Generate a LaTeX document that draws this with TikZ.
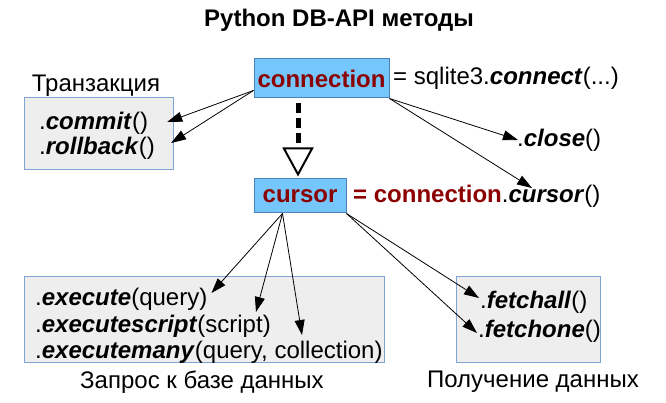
\documentclass[tikz,border=0pt]{standalone}
\usepackage{fontspec}
\setmainfont{Liberation Sans}
\usetikzlibrary{arrows.meta}
\definecolor{bluefill}{HTML}{75C6FB}
\definecolor{blueborder}{HTML}{4A82C0}
\definecolor{grayfill}{HTML}{EEEEEE}
\definecolor{grayborder}{HTML}{7FA4D4}
\definecolor{darkred}{HTML}{8B0000}
\newcommand{\bi}[1]{\textbf{\textit{#1}}}
\begin{document}
\begin{tikzpicture}[x=1pt,y=-1pt,
  txt/.style={inner sep=0pt, font=\fontsize{24}{28}\selectfont},
  bluebox/.style={draw=blueborder, fill=bluefill, line width=1pt, inner sep=0pt,
     font=\fontsize{24}{28}\selectfont\bfseries, text=darkred},
  graybox/.style={draw=grayborder, fill=grayfill, line width=1pt, inner sep=0pt},
  arr/.style={line width=0.8pt, -{Triangle[length=15pt,width=10pt]}},
  inherit/.style={line width=5pt, dash pattern=on 10pt off 5pt,
     -{Triangle[open, length=29pt, width=31pt, line width=2pt]}}]
\useasboundingbox (0,0) rectangle (666,403);
% title
\node[txt, font=\fontsize{24}{28}\selectfont\bfseries, anchor=base] (title) at (339,27) {Python DB-API методы};
% boxes
\node[graybox, minimum width=149pt, minimum height=72pt] (transBox) at (98.5,134) {};
\node[graybox, minimum width=360pt, minimum height=86pt] (execBox) at (204,319) {};
\node[graybox, minimum width=144pt, minimum height=86pt] (fetchBox) at (528,319) {};
\node[bluebox, minimum width=135pt, minimum height=39pt] (conn) at (321.5,78.5) {connection};
\node[bluebox, minimum width=92pt, minimum height=34pt] (cursor) at (300,196) {cursor};
% texts
\node[txt, anchor=base west] (connEq) at (393,85) {= sqlite3.\bi{connect}(...)};
\node[txt, anchor=base west] (close) at (517,147) {.\bi{close}()};
\node[txt, anchor=base west] (cursorEq) at (353,203) {\textcolor{darkred}{\textbf{= connection}}.\bi{cursor}()};
\node[txt, anchor=base] (transLabel) at (96,92) {Транзакция};
\node[txt, anchor=base west] (commit) at (39,130) {.\bi{commit}()};
\node[txt, anchor=base west] (rollback) at (39,155) {.\bi{rollback}()};
\node[txt, anchor=base west] (execute) at (35,305) {.\bi{execute}(query)};
\node[txt, anchor=base west] (executescript) at (35,332) {.\bi{executescript}(script)};
\node[txt, anchor=base west] (executemany) at (35,358) {.\bi{executemany}(query, collection)};
\node[txt, anchor=base west] (fetchall) at (480,308) {.\bi{fetchall}()};
\node[txt, anchor=base west] (fetchone) at (478,337) {.\bi{fetchone}()};
\node[txt, anchor=base] (queryLabel) at (202,388) {Запрос к базе данных};
\node[txt, anchor=base] (fetchLabel) at (533,387) {Получение данных};
% inheritance
\draw[inherit, shorten <=5pt, shorten >=2pt] ([xshift=-23.5pt]conn.south) -- ([xshift=-2pt]cursor.north);
% arrows from connection
\draw[arr] (conn.190) -- ([shift={(19pt,8pt)}]commit.base east);
\draw[arr] (conn.190) -- ([shift={(16pt,12pt)}]rollback.base east);
\draw[arr] (conn.south east) -- ([shift={(1pt,7pt)}]close.base west);
\draw[arr] (conn.south east) -- ([shift={(179pt,15pt)}]cursorEq.base west);
% arrows from cursor
\draw[arr] (cursor.225) -- ([shift={(4pt,12pt)}]execute.base east);
\draw[arr] (cursor.225) -- ([shift={(-15pt,20pt)}]executescript.base east);
\draw[arr] (cursor.225) -- ([shift={(267pt,23pt)}]executemany.base west);
\draw[arr] (cursor.south east) -- ([shift={(-1pt,10pt)}]fetchall.base west);
\draw[arr] (cursor.south east) -- ([shift={(-1pt,4pt)}]fetchone.base west);
\end{tikzpicture}
\end{document}
